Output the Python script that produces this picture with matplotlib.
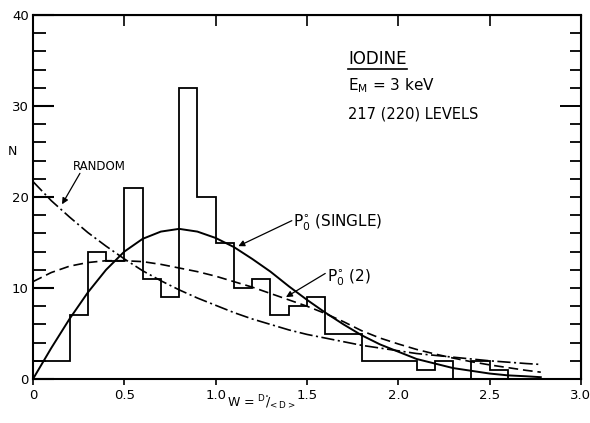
import numpy as np
import matplotlib
matplotlib.use("Agg")
import matplotlib.pyplot as plt

plt.rcParams['font.family'] = ['DejaVu Sans']
plt.rcParams['mathtext.fontset'] = 'dejavusans'
plt.rcParams['lines.scale_dashes'] = False

# Level-spacing histogram (counts per spacing bin, W = D/<D>)
bin_edges = [0.0, 0.2, 0.3, 0.4, 0.5, 0.6, 0.7, 0.8, 0.9, 1.0, 1.1, 1.2,
             1.3, 1.4, 1.5, 1.6, 1.8, 2.1, 2.2, 2.3, 2.4, 2.5, 2.6, 2.8]
counts = [2, 7, 14, 13, 21, 11, 9, 32, 20, 15, 10, 11,
          7, 8, 9, 5, 2, 1, 2, 0, 2, 1, 0]

# Theoretical curves sampled along W
w_grid = [0.0, 0.1, 0.2, 0.3, 0.4, 0.5, 0.6, 0.7, 0.8, 0.9, 1.0, 1.1, 1.2, 1.3,
          1.4, 1.5, 1.6, 1.7, 1.8, 1.9, 2.0, 2.1, 2.2, 2.3, 2.4, 2.5, 2.6, 2.7, 2.78]
p_single = [0.0, 3.4, 6.6, 9.5, 12.0, 14.0, 15.4, 16.2, 16.5, 16.2, 15.5, 14.5, 13.2, 11.8,
            10.2, 8.7, 7.3, 6.0, 4.8, 3.8, 3.0, 2.2, 1.7, 1.2, 0.9, 0.6, 0.4, 0.3, 0.2]
p_two = [10.7, 11.7, 12.4, 12.8, 13.0, 13.0, 12.9, 12.6, 12.2, 11.8, 11.3, 10.7, 10.1, 9.4,
         8.7, 8.0, 7.2, 6.3, 5.3, 4.5, 3.85, 3.25, 2.75, 2.3, 1.9, 1.55, 1.25, 0.95, 0.75]
p_random = [21.7, 19.6, 17.8, 16.1, 14.6, 13.2, 11.9, 10.8, 9.8, 8.9, 8.1, 7.3, 6.6, 6.0,
            5.4, 4.9, 4.5, 4.1, 3.7, 3.4, 3.1, 2.8, 2.6, 2.4, 2.2, 2.0, 1.85, 1.7, 1.6]

x_ticks = [0.0, 0.5, 1.0, 1.5, 2.0, 2.5, 3.0]
x_tick_labels = ['0', '0.5', '1.0', '1.5', '2.0', '2.5', '3.0']
y_ticks = [0, 10, 20, 30, 40]

fig = plt.figure(figsize=(5.9, 4.23), dpi=100)
ax = fig.add_axes([0.0559, 0.104, 0.9288, 0.8605])

ax.stairs(counts, bin_edges, baseline=0, fill=False, color='k', lw=1.3)
ax.plot(w_grid, p_single, color='k', lw=1.4)
ax.plot(w_grid, p_two, color='k', lw=1.2, dashes=(7, 3.5))
ax.plot(w_grid, p_random, color='k', lw=1.2, dashes=(9.5, 2.5, 1.5, 2.5))

ax.set_xlim(0, 3.0)
ax.set_ylim(0, 40)
for sp in ax.spines.values():
    sp.set_linewidth(1.5)

ax.set_xticks(x_ticks)
ax.set_xticklabels(x_tick_labels)
ax.set_yticks(y_ticks)
ax.set_yticks(np.arange(0, 41, 2), minor=True)
ax.tick_params(axis='x', direction='out', length=4, width=1.2, pad=3, labelsize=9.5)
ax.tick_params(axis='y', which='major', direction='in', length=15, width=1.5,
               pad=3, labelsize=9.5)
ax.tick_params(axis='y', which='minor', direction='in', length=9, width=1.3)

top = ax.secondary_xaxis('top')
top.set_xticks(x_ticks)
top.tick_params(direction='in', length=8, width=1.2, labeltop=False)
right = ax.secondary_yaxis('right')
right.set_yticks([30])
right.set_yticks(np.arange(0, 41, 2), minor=True)
right.tick_params(which='major', direction='in', length=15, width=1.4, labelright=False)
right.tick_params(which='minor', direction='in', length=8, width=1.3)

# Axis labels
ax.text(-0.115, 25.0, 'N', fontsize=9, ha='center', va='center', clip_on=False)
ax.text(1.06, -3.1, r'W = $^{\mathrm{D}^{\circ}}\!\!/_{\!\mathrm{<D>}}$', fontsize=9,
        ha='left', va='baseline', clip_on=False)

# Header block
title = ax.text(1.725, 34.6, 'IODINE', fontsize=12, ha='left', va='baseline')
ax.text(1.725, 31.7, r'$\mathrm{E}_\mathrm{M}$ = 3 keV', fontsize=11,
        ha='left', va='baseline')
ax.text(1.725, 28.6, '217 (220) LEVELS', fontsize=10.5, ha='left', va='baseline')

# Curve labels with pointer arrows
arrow = dict(arrowstyle='-|>', color='k', lw=0.9, mutation_scale=9,
             shrinkA=0, shrinkB=0)
ax.text(0.22, 23.0, 'RANDOM', fontsize=8.5, ha='left', va='baseline')
ax.annotate('', xy=(0.159, 19.2), xytext=(0.257, 22.6), arrowprops=arrow)
ax.text(1.424, 16.8, r'$\mathrm{P}_0^{\circ}$ (SINGLE)', fontsize=11,
        ha='left', va='baseline')
ax.annotate('', xy=(1.124, 14.6), xytext=(1.417, 17.4), arrowprops=arrow)
ax.text(1.608, 10.7, r'$\mathrm{P}_0^{\circ}$ (2)', fontsize=11,
        ha='left', va='baseline')
ax.annotate('', xy=(1.385, 9.0), xytext=(1.60, 11.6), arrowprops=arrow)

# Underline under the element name
fig.canvas.draw()
bb = title.get_window_extent().transformed(ax.transData.inverted())
ax.plot([bb.x0, bb.x1], [bb.y0 - 0.1, bb.y0 - 0.1], color='k', lw=1.2)

fig.savefig('out.png', dpi=100)
